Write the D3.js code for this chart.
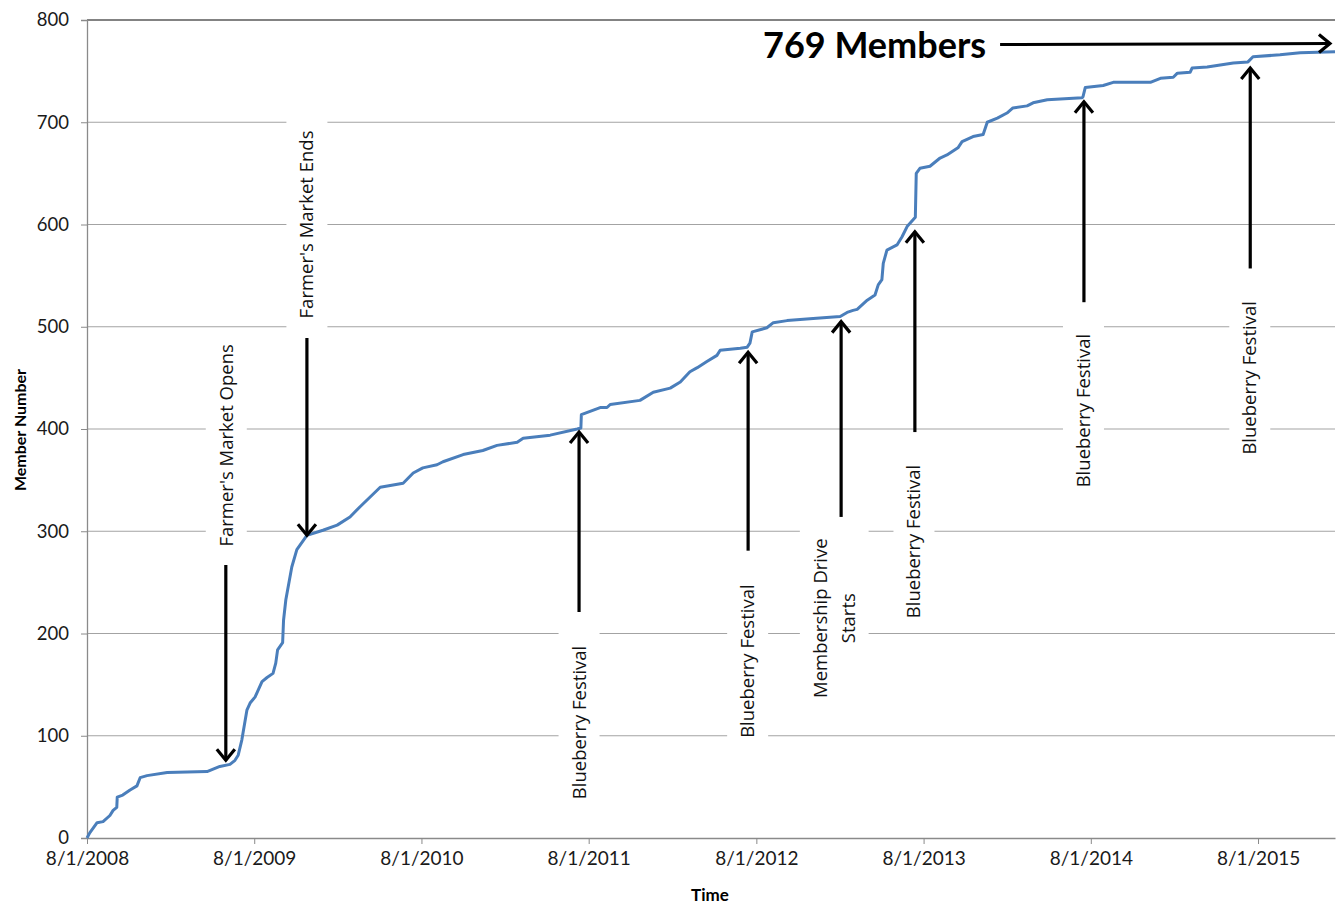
<!DOCTYPE html>
<html>
<head>
<meta charset="utf-8">
<script src="https://cdn.jsdelivr.net/npm/d3@7"></script>
<style>
  body { margin: 0; background: #fff; }
  text { font-family: Lato, "Open Sans", sans-serif; }
  .note { font-family: "Open Sans", sans-serif; font-size: 18.5px; fill: #111; }
</style>
</head>
<body>
<svg id="chart" width="1341" height="905"></svg>
<script>
// member count over time
const dates = [
  "2008-08-01","2008-08-07","2008-08-23","2008-09-05","2008-09-20","2008-09-27","2008-10-05","2008-10-06",
  "2008-10-18","2008-11-03","2008-11-18","2008-11-25","2008-12-10","2009-01-23","2009-04-20","2009-05-18",
  "2009-06-09","2009-06-20","2009-06-27","2009-07-05","2009-07-16","2009-07-23","2009-08-03","2009-08-18",
  "2009-08-29","2009-09-11","2009-09-17","2009-09-21","2009-10-02","2009-10-04","2009-10-09","2009-10-22",
  "2009-11-02","2009-11-24","2009-12-29","2010-01-29","2010-02-26","2010-03-20","2010-05-03","2010-06-22",
  "2010-07-14","2010-08-04","2010-09-04","2010-09-17","2010-10-31","2010-12-13","2011-01-13","2011-02-26",
  "2011-03-11","2011-05-09","2011-07-07","2011-07-15","2011-07-16","2011-08-26","2011-09-10","2011-09-17",
  "2011-11-21","2011-12-20","2012-01-26","2012-02-17","2012-03-09","2012-03-25","2012-04-15","2012-05-07",
  "2012-05-14","2012-06-27","2012-07-12","2012-07-18","2012-07-23","2012-08-24","2012-09-07","2012-10-07",
  "2012-12-03","2013-01-31","2013-02-15","2013-02-28","2013-03-09","2013-03-31","2013-04-17","2013-04-24",
  "2013-05-02","2013-05-05","2013-05-13","2013-06-04","2013-06-15","2013-06-26","2013-07-14","2013-07-16",
  "2013-07-24","2013-08-15","2013-09-06","2013-09-21","2013-10-15","2013-10-24","2013-11-17","2013-12-09",
  "2013-12-18","2014-01-09","2014-01-30","2014-02-12","2014-03-15","2014-03-28","2014-04-28","2014-07-13",
  "2014-07-15","2014-07-20","2014-08-28","2014-09-19","2014-12-09","2014-12-31","2015-01-28","2015-02-06",
  "2015-03-06","2015-03-10","2015-04-12","2015-06-08","2015-07-10","2015-07-21","2015-09-18","2015-11-01",
  "2016-01-16"
];
const members = [
  0, 5, 15, 16, 22, 27, 30, 40,
  42, 47, 51, 59, 61, 64, 65, 70,
  72, 76, 81, 96, 125, 132, 138, 153,
  157, 161, 171, 184, 191, 213, 233, 265,
  282, 296, 301, 306, 314, 324, 343, 347,
  357, 362, 365, 368, 375, 379, 384, 387,
  391, 394, 400, 401, 414, 421, 421, 424,
  428, 436, 440, 446, 456, 460, 466, 472,
  477, 479, 480, 484, 495, 499, 504, 506,
  508, 510, 514, 516, 517, 526, 531, 541,
  546, 562, 575, 580, 588, 598, 607, 650,
  655, 657, 665, 668, 675, 681, 686, 688,
  700, 704, 709, 714, 716, 719, 722, 724,
  725, 734, 736, 739, 739, 743, 744, 748,
  749, 753, 754, 758, 759, 764, 766, 768,
  769
];

const tickDates = ["2008-08-01","2009-08-01","2010-08-01","2011-08-01","2012-08-01","2013-08-01","2014-08-01","2015-08-01"];
const yTicks = [0, 100, 200, 300, 400, 500, 600, 700, 800];

// event annotations: label lines, label date/value (centre), arrow date, arrow from -> to values
const noteLines = [["Farmer's Market Opens"], ["Farmer's Market Ends"], ["Blueberry  Festival"], ["Blueberry  Festival"],
                   ["Membership  Drive", "Starts"], ["Blueberry  Festival"], ["Blueberry  Festival"], ["Blueberry  Festival"]];
const noteDates = ["2009-06-01","2009-11-24","2011-07-11","2012-07-13","2013-01-18","2013-07-11","2014-07-16","2015-07-14"];
const noteValues = [384, 600, 113, 173, 215, 290, 418, 450];
const arrowDates = ["2009-05-31","2009-11-24","2011-07-11","2012-07-14","2013-02-02","2013-07-13","2014-07-17","2015-07-15"];
const arrowFrom = [267, 489, 221, 281, 314, 397, 524, 557];
const arrowTo = [76, 296, 397, 475, 505, 593, 720, 753];

const totalLabel = "769 Members";
const totalArrow = { from: "2014-01-15", to: "2016-01-05", value: 776 };

const parse = d3.timeParse("%Y-%m-%d");
const series = dates.map((d, i) => ({ date: parse(d), value: members[i] }));

const svg = d3.select("#chart");
const plotLeft = 87, plotRight = 1335, plotTop = 20, plotBottom = 838;

const x = d3.scaleTime().domain([parse("2008-08-01"), parse("2016-01-16")]).range([plotLeft, plotRight]);
const y = d3.scaleLinear().domain([0, 800]).range([plotBottom, plotTop]);

// gridlines
svg.append("g").selectAll("line").data(yTicks.filter(v => v > 0)).join("line")
  .attr("x1", plotLeft).attr("x2", plotRight)
  .attr("y1", d => y(d)).attr("y2", d => y(d))
  .attr("stroke", d => d === 800 ? "#5a5a5a" : "#a3a3a3")
  .attr("stroke-width", d => d === 800 ? 1.6 : 1.2);

// y axis
const yAxis = svg.append("g").attr("transform", `translate(${plotLeft},0)`)
  .call(d3.axisLeft(y).tickValues(yTicks).tickSize(6).tickPadding(12));
yAxis.select(".domain").attr("stroke", "#8a8a8a").attr("stroke-width", 1.3);
yAxis.selectAll(".tick line").attr("stroke", "#8a8a8a");
yAxis.selectAll("text").attr("font-size", 18.5).attr("fill", "#1a1a1a").attr("font-family", "Lato");

// x axis
const xAxis = svg.append("g").attr("transform", `translate(0,${plotBottom})`)
  .call(d3.axisBottom(x).tickValues(tickDates.map(parse)).tickFormat(d3.timeFormat("%-m/%-d/%Y"))
    .tickSize(6).tickPadding(8).tickSizeOuter(0));
xAxis.select(".domain").attr("stroke", "#8a8a8a").attr("stroke-width", 1.3);
xAxis.selectAll(".tick line").attr("stroke", "#8a8a8a");
xAxis.selectAll("text").attr("font-size", 19).attr("fill", "#1a1a1a").attr("font-family", "Lato");

// axis titles
svg.append("text").attr("x", 710).attr("y", 901).attr("text-anchor", "middle")
  .attr("font-size", 17).attr("font-weight", "bold").text("Time");
svg.append("text").attr("transform", "translate(26,430) rotate(-90)").attr("text-anchor", "middle")
  .attr("font-size", 16).attr("font-weight", "bold").text("Member Number");

// labels with white boxes that break the gridlines
const notes = svg.append("g");
noteLines.forEach((lines, i) => {
  const cx = x(parse(noteDates[i])), cy = y(noteValues[i]);
  const g = notes.append("g");
  const box = g.append("rect").attr("fill", "#fff");
  const t = g.append("text").attr("class", "note")
    .attr("transform", `translate(${cx},${cy}) rotate(-90)`)
    .attr("text-anchor", "middle");
  const n = lines.length;
  lines.forEach((s, k) => {
    t.append("tspan").attr("x", 0).attr("y", 0)
      .attr("dy", `${(k - (n - 1) / 2) * 1.5 + 0.35}em`).text(s);
  });
  const bb = t.node().getBBox();
  const w = bb.height, h = bb.width; // rotated
  box.attr("x", cx - w / 2 - 8).attr("width", w + 16)
     .attr("y", cy - h / 2 - 14).attr("height", h + 28);
});

// member line
svg.append("path").datum(series)
  .attr("fill", "none").attr("stroke", "#4a7ebb").attr("stroke-width", 3)
  .attr("stroke-linejoin", "round")
  .attr("d", d3.line().x(d => x(d.date)).y(d => y(d.value)));

// arrowheads
svg.append("defs").append("marker")
  .attr("id", "head").attr("markerUnits", "userSpaceOnUse")
  .attr("viewBox", "-16 -12 20 24").attr("refX", 0).attr("refY", 0)
  .attr("markerWidth", 20).attr("markerHeight", 24).attr("orient", "auto")
  .append("path").attr("d", "M-11,-9 L0,0 L-11,9")
  .attr("fill", "none").attr("stroke", "#000").attr("stroke-width", 3.2);

svg.append("g").selectAll("line").data(arrowDates).join("line")
  .attr("x1", d => x(parse(d))).attr("x2", d => x(parse(d)))
  .attr("y1", (d, i) => y(arrowFrom[i])).attr("y2", (d, i) => y(arrowTo[i]))
  .attr("stroke", "#000").attr("stroke-width", 3.2)
  .attr("marker-end", "url(#head)");

// total annotation
svg.append("line")
  .attr("x1", x(parse(totalArrow.from))).attr("x2", x(parse(totalArrow.to)))
  .attr("y1", y(totalArrow.value)).attr("y2", y(totalArrow.value) - 1)
  .attr("stroke", "#000").attr("stroke-width", 3)
  .attr("marker-end", "url(#head)");
svg.append("text")
  .attr("x", x(parse(totalArrow.from)) - 14).attr("y", y(totalArrow.value) + 13)
  .attr("text-anchor", "end").attr("font-family", "Open Sans")
  .attr("font-size", 36).attr("font-weight", "bold").attr("fill", "#000")
  .text(totalLabel);
</script>
</body>
</html>
